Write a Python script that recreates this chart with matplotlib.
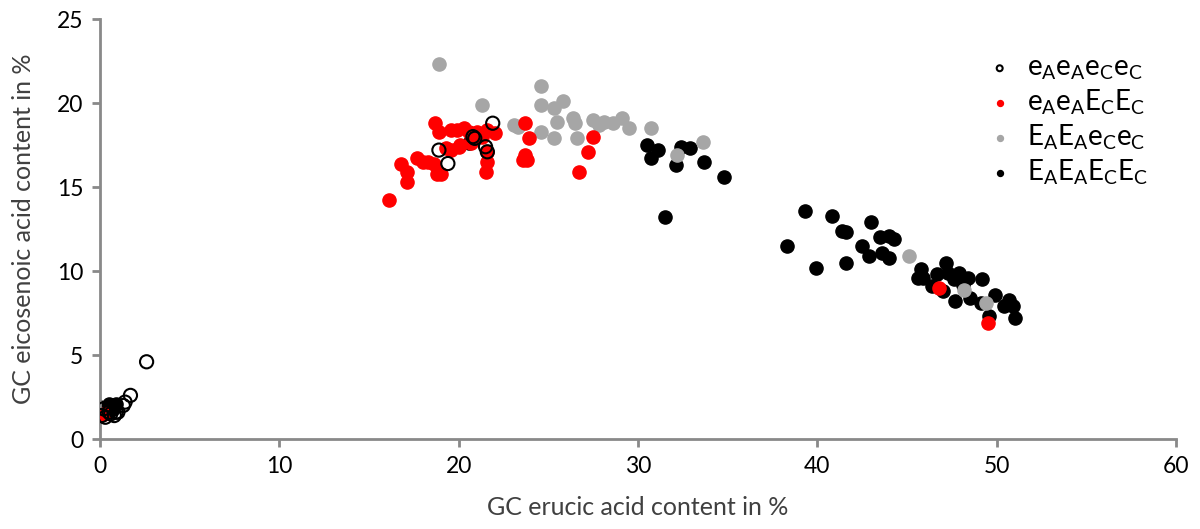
import matplotlib
matplotlib.use("Agg")
import matplotlib.pyplot as plt

plt.rcParams['font.family'] = ['Lato', 'DejaVu Sans']

# eAeAeCeC (open circles)
x_open = [0.1, 0.2, 0.3, 0.5, 0.6, 0.8, 0.9, 1.0, 1.3, 1.4, 1.7, 2.6,
          18.9, 19.4, 20.8, 20.9, 21.5, 21.6, 21.9]
y_open = [1.4, 1.8, 1.3, 1.6, 1.5, 1.4, 1.6, 1.6, 2.0, 2.2, 2.6, 4.6,
          17.2, 16.4, 18.0, 17.9, 17.4, 17.1, 18.8]

# eAeAECEC (red)
x_red = [16.1, 16.8, 17.1, 17.1, 17.7, 18.0, 18.3, 18.6, 18.7, 18.9, 18.8, 19.0,
         19.3, 19.6, 19.6, 19.9, 20.1, 20.3, 20.0, 20.6, 21.0, 21.3, 21.6, 21.6,
         21.6, 21.5, 22.0, 20.7, 23.7, 23.9, 23.7, 23.8, 23.6, 26.7, 27.2, 27.5,
         46.8, 49.5, 0.2]
y_red = [14.2, 16.4, 15.9, 15.3, 16.7, 16.5, 16.5, 16.4, 18.8, 18.3, 15.8, 15.8,
         17.3, 18.4, 17.2, 18.4, 17.5, 18.5, 17.4, 18.3, 18.3, 18.0, 18.4, 17.1,
         16.5, 15.9, 18.2, 17.6, 18.8, 17.9, 16.9, 16.6, 16.6, 15.9, 17.1, 18.0,
         9.0, 6.9, 1.5]

# EAEAeCeC (grey)
x_grey = [18.9, 21.3, 23.1, 23.3, 24.6, 24.6, 24.6, 25.3, 25.3, 25.5, 25.8, 26.4,
          26.5, 26.6, 27.5, 27.8, 28.1, 28.6, 29.1, 29.5, 30.7, 32.2, 33.6, 45.1,
          48.2, 49.4]
y_grey = [22.3, 19.9, 18.7, 18.6, 21.0, 19.9, 18.3, 19.7, 17.9, 18.9, 20.1, 19.1,
          18.8, 17.9, 19.0, 18.7, 18.9, 18.8, 19.1, 18.5, 18.5, 16.9, 17.7, 10.9,
          8.9, 8.1]

# EAEAECEC (black)
x_black = [0.1, 0.3, 0.5, 0.9, 0.7, 0.0,
           20.6, 30.5, 31.1, 30.7, 32.4, 32.9, 32.1, 33.7, 34.8, 31.5,
           39.3, 40.8, 43.0, 41.4, 41.6, 43.5, 44.0, 44.3, 42.5, 38.3, 42.9, 43.6,
           44.0, 39.9, 41.6, 45.8, 45.6, 45.9, 47.2, 47.3, 46.7, 47.9, 48.4, 49.2,
           47.0, 47.7, 48.5, 49.1, 49.9, 50.7, 50.9, 51.0, 50.4, 49.6, 47.6, 48.1, 46.4]
y_black = [1.5, 1.7, 2.1, 2.1, 1.8, 1.9,
           17.6, 17.5, 17.2, 16.7, 17.4, 17.3, 16.3, 16.5, 15.6, 13.2,
           13.6, 13.3, 12.9, 12.4, 12.3, 12.0, 12.1, 11.9, 11.5, 11.5, 10.9, 11.1,
           10.8, 10.2, 10.5, 10.1, 9.6, 9.6, 10.5, 9.9, 9.8, 9.9, 9.6, 9.5,
           8.8, 8.2, 8.4, 8.1, 8.6, 8.3, 7.9, 7.2, 7.9, 7.3, 9.5, 9.2, 9.1]

fig = plt.figure(figsize=(12, 5.29), dpi=100)
ax = fig.add_axes([0.0833, 0.17, 0.8967, 0.794])

s = 90
ax.scatter(x_black, y_black, s=s, color='black', zorder=2,
           label=r'$\mathregular{E_AE_AE_CE_C}$')
ax.scatter(x_grey, y_grey, s=s, color='#a6a6a6', zorder=3,
           label=r'$\mathregular{E_AE_Ae_Ce_C}$')
ax.scatter(x_red, y_red, s=s, color='#ff0000', zorder=4,
           label=r'$\mathregular{e_Ae_AE_CE_C}$')
ax.scatter(x_open, y_open, s=s, facecolor='none', edgecolor='black',
           linewidths=1.5, zorder=5, label=r'$\mathregular{e_Ae_Ae_Ce_C}$')

ax.set_xlim(0, 60)
ax.set_ylim(0, 25)
ax.set_xticks(range(0, 61, 10))
ax.set_yticks(range(0, 26, 5))

for side in ['top', 'right']:
    ax.spines[side].set_visible(False)
for side in ['left', 'bottom']:
    ax.spines[side].set_color('#898989')
    ax.spines[side].set_linewidth(2)
ax.tick_params(axis='both', direction='out', length=6, width=2, color='#898989',
               labelsize=16.5, labelcolor='black', pad=6)

ax.set_xlabel('GC erucic acid content in %', fontsize=18, color='#404040', labelpad=14)
ax.set_ylabel('GC eicosenoic acid content in %', fontsize=18, color='#404040', labelpad=16)

handles, labels = ax.get_legend_handles_labels()
order = [3, 2, 1, 0]
ax.legend([handles[i] for i in order], [labels[i] for i in order],
          loc='upper left', bbox_to_anchor=(0.80, 0.975), frameon=False,
          fontsize=20, markerscale=0.45, handletextpad=0.5, labelspacing=0.2,
          handlelength=1.0)

fig.savefig('out.png', dpi=100)
